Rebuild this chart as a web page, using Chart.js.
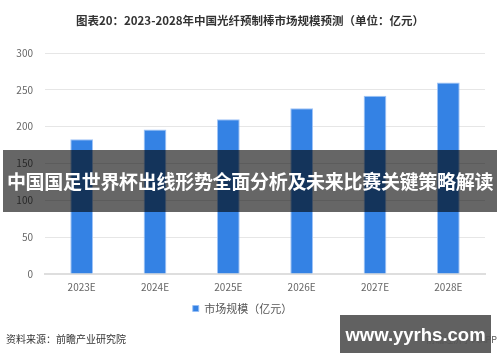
<!DOCTYPE html>
<html lang="zh">
<head>
<meta charset="utf-8">
<script src="https://cdn.jsdelivr.net/npm/chart.js"></script>
<style>
  html, body { margin: 0; padding: 0; background: #fff; }
  #wrap { position: relative; width: 500px; height: 362px; overflow: hidden; font-family: "Noto Sans CJK SC", sans-serif; }
  #chart { position: absolute; left: 0; top: 0; }
  .title { position: absolute; top: 12px; left: 0; width: 500px; text-align: center; font-size: 11.5px; font-weight: bold; color: #333; }
  .source { position: absolute; left: 6px; top: 331px; font-size: 10px; color: #333; }
  .app { position: absolute; right: 3px; top: 333px; font-size: 9px; color: #555; }
  .banner { position: absolute; left: 3px; top: 150px; width: 494px; height: 62px; background: rgba(0,0,0,0.6);
            color: #fff; font-size: 19px; letter-spacing: -0.3px; font-weight: bold; line-height: 62px; text-align: center; white-space: nowrap; }
  .site { position: absolute; left: 340px; top: 315px; width: 151px; height: 38px; background: rgba(85,85,85,0.93);
          color: #fff; font-family: "Liberation Sans", sans-serif; font-size: 18.5px; font-weight: bold; line-height: 40px; text-align: center; }
</style>
</head>
<body>
<div id="wrap">
  <canvas id="chart" width="500" height="362"></canvas>
  <div class="title">图表20：2023-2028年中国光纤预制棒市场规模预测（单位：亿元）</div>
  <div class="source">资料来源：前瞻产业研究院</div>
  <div class="app">前瞻经济学人APP</div>
  <div class="banner">中国国足世界杯出线形势全面分析及未来比赛关键策略解读</div>
  <div class="site">www.yyrhs.com</div>
</div>
<script>
  // 数据
  var anos = ["2023E", "2024E", "2025E", "2026E", "2027E", "2028E"];
  var mercado = [183, 196, 210, 225, 242, 260];
  var ticksY = [0, 50, 100, 150, 200, 250, 300];

  var fonte = "'Noto Sans CJK SC', sans-serif";

  var ctx = document.getElementById("chart").getContext("2d");
  var grafico = new Chart(ctx, {
    type: 'bar',
    data: {
      labels: anos,
      datasets: [{
        label: '市场规模（亿元）',
        data: mercado,
        backgroundColor: '#3482e4',
        borderColor: 'rgba(150,190,245,0.9)',
        borderWidth: 1,
        barPercentage: 0.62,
        categoryPercentage: 0.5
      }]
    },
    options: {
      responsive: false,
      animation: false,
      layout: { padding: { top: 53, right: 15, bottom: 38, left: 0 } },
      plugins: {
        title: { display: false },
        tooltip: { enabled: false },
        legend: {
          position: 'bottom',
          labels: {
            boxWidth: 6, boxHeight: 6, padding: 8,
            color: '#555', font: { family: fonte, size: 11 }
          }
        }
      },
      scales: {
        x: {
          grid: { display: false, drawTicks: false },
          border: { color: '#dedede', width: 2 },
          ticks: { color: '#666', font: { family: fonte, size: 10 }, padding: 7 },
          afterFit: function (s) { s.height = 21; }
        },
        y: {
          min: 0, max: 300,
          afterBuildTicks: function (s) { s.ticks = ticksY.map(function (v) { return { value: v }; }); },
          grid: { color: '#e6e6e6', drawTicks: false },
          border: { display: false },
          ticks: { color: '#666', font: { family: fonte, size: 10 }, padding: 12 },
          afterFit: function (s) { s.width = 45; }
        }
      }
    }
  });
</script>
</body>
</html>
